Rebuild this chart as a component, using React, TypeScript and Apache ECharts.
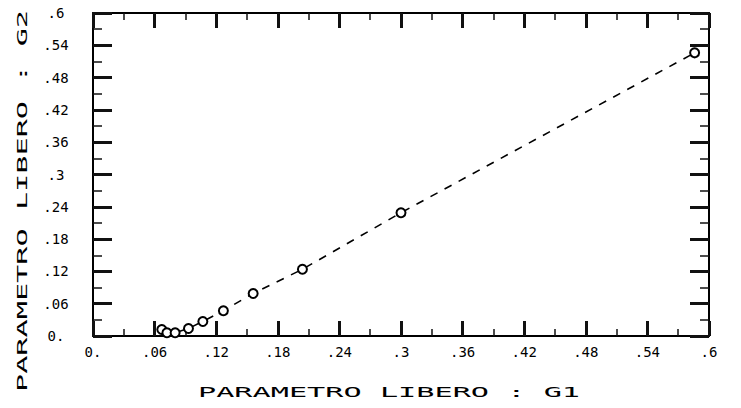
import React, { useEffect, useRef } from "react";
import * as echarts from "echarts";

const g1Values = [0.067, 0.072, 0.080, 0.093, 0.107, 0.127, 0.156, 0.204, 0.300, 0.586];
const g2Values = [0.012, 0.006, 0.006, 0.014, 0.027, 0.047, 0.079, 0.124, 0.229, 0.526];
const tickLabels = ["0.", ".06", ".12", ".18", ".24", ".3", ".36", ".42", ".48", ".54", ".6"];
const xTitle = "PARAMETRO LIBERO : G1";
const yTitle = "PARAMETRO LIBERO : G2";

const FONT = "'DejaVu Sans Mono', monospace";
const INK = "#111";

function fmt(v: number) {
  const i = Math.round(v / 0.06);
  return tickLabels[i] ?? "";
}

function axisBase(showLabel: boolean, isY: boolean, pos: string) {
  return {
    type: "value",
    position: pos,
    min: 0,
    max: 0.6,
    interval: 0.06,
    splitLine: { show: false },
    axisLine: { show: true, onZero: false, lineStyle: { color: "#000", width: 2 } },
    axisTick: { show: true, inside: true, length: isY ? 19 : 15, lineStyle: { color: INK, width: 3, type: "solid" } },
    minorTick: { show: true, splitNumber: 2, length: isY ? 9 : 7, lineStyle: { color: INK, width: 1.5, type: "solid" } },
    axisLabel: showLabel
      ? {
          show: true,
          formatter: fmt,
          color: "#000",
          fontFamily: FONT,
          fontSize: 14,
          margin: isY ? 37 : 9,
          align: isY ? "center" : undefined,
        }
      : { show: false },
  };
}

export default function App() {
  const ref = useRef<HTMLDivElement>(null);
  useEffect(() => {
    if (!ref.current) return;
    const chart = echarts.init(ref.current, null, { renderer: "svg" });
    chart.setOption({
      animation: false,
      backgroundColor: "#fff",
      grid: { left: 93, right: 32, top: 13, bottom: 72, containLabel: false },
      xAxis: [axisBase(true, false, "bottom"), axisBase(false, false, "top")],
      yAxis: [axisBase(true, true, "left"), axisBase(false, true, "right")],
      series: [
        {
          type: "line",
          xAxisIndex: 0,
          yAxisIndex: 0,
          data: g1Values.map((x, i) => [x, g2Values[i]]),
          symbol: "emptyCircle",
          symbolSize: 9,
          showAllSymbol: true,
          lineStyle: { color: "#000", width: 1.6, type: [8, 8] },
          itemStyle: { color: "#000", borderColor: "#000", borderWidth: 1.6 },
        },
      ],
      graphic: [
        {
          type: "text",
          x: 389,
          y: 392,
          scaleX: 2.16,
          style: {
            text: xTitle,
            fill: "#000",
            font: `14px ${FONT}`,
            textAlign: "center",
            textVerticalAlign: "middle",
          },
        },
        {
          type: "text",
          x: 22,
          y: 201,
          rotation: Math.PI / 2,
          scaleX: 2.16,
          style: {
            text: yTitle,
            fill: "#000",
            font: `14px ${FONT}`,
            textAlign: "center",
            textVerticalAlign: "middle",
          },
        },
      ],
    });
    return () => chart.dispose();
  }, []);
  return (
    <div
      ref={ref}
      style={{ position: "fixed", left: 0, top: 0, width: 741, height: 408, background: "#fff" }}
    />
  );
}
